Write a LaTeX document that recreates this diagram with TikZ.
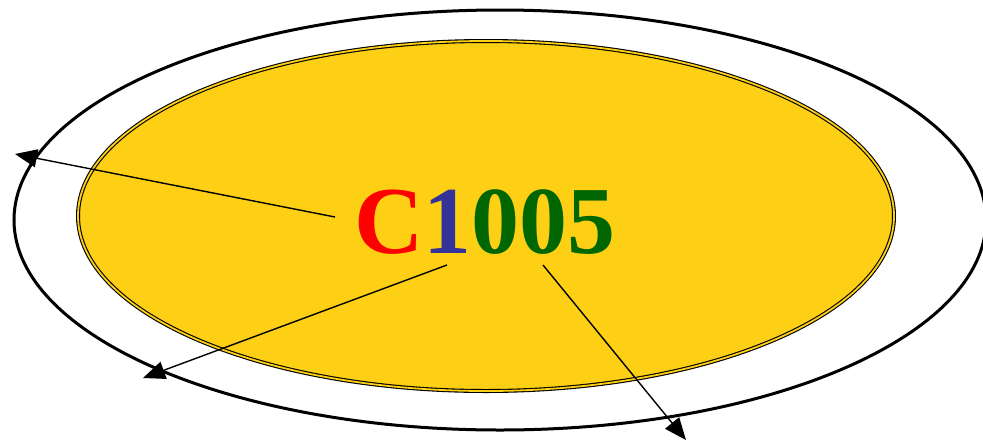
\documentclass[tikz,border=0pt]{standalone}
\usepackage{fontspec}
\setmainfont{Liberation Serif}
\usetikzlibrary{positioning}
\usetikzlibrary{arrows.meta}
\usepackage{xcolor}

\definecolor{discyellow}{RGB}{253,208,22}
\definecolor{codered}{RGB}{255,0,0}
\definecolor{codeblue}{RGB}{51,51,153}
\definecolor{codegreen}{RGB}{0,102,0}

\begin{document}
\begin{tikzpicture}[x=1pt,y=-1pt,
  pointer/.style={-{Triangle[length=22pt,width=18pt]}, line width=1.4pt}]

\useasboundingbox (0,0) rectangle (983,440);

\begin{scope}{
\draw[line width=3pt] (500,220) ellipse [x radius=486, y radius=210];

\draw[draw=black, double=discyellow, double distance=1.8pt, line width=1.1pt, fill=discyellow] (486,216) ellipse [x radius=408, y radius=175];

% nodes
{
\node (code) at (485,222) [inner sep=0pt]
{\fontsize{96}{100}\selectfont\bfseries\textcolor{codered}{C}\textcolor{codeblue}{1}\textcolor{codegreen}{005}};
}

\coordinate (tailA) at (335,217);
\coordinate (tailB) at (447,265);
\coordinate (tailC) at (543,265);

\coordinate (tipA) at (15,154);
\coordinate (tipB) at (143,378);
\coordinate (tipC) at (686,440);

\draw[pointer] (tailA) -- (tipA);
\draw[pointer] (tailB) -- (tipB);
\draw[pointer] (tailC) -- (tipC);

} \end{scope}

\end{tikzpicture}
\end{document}
